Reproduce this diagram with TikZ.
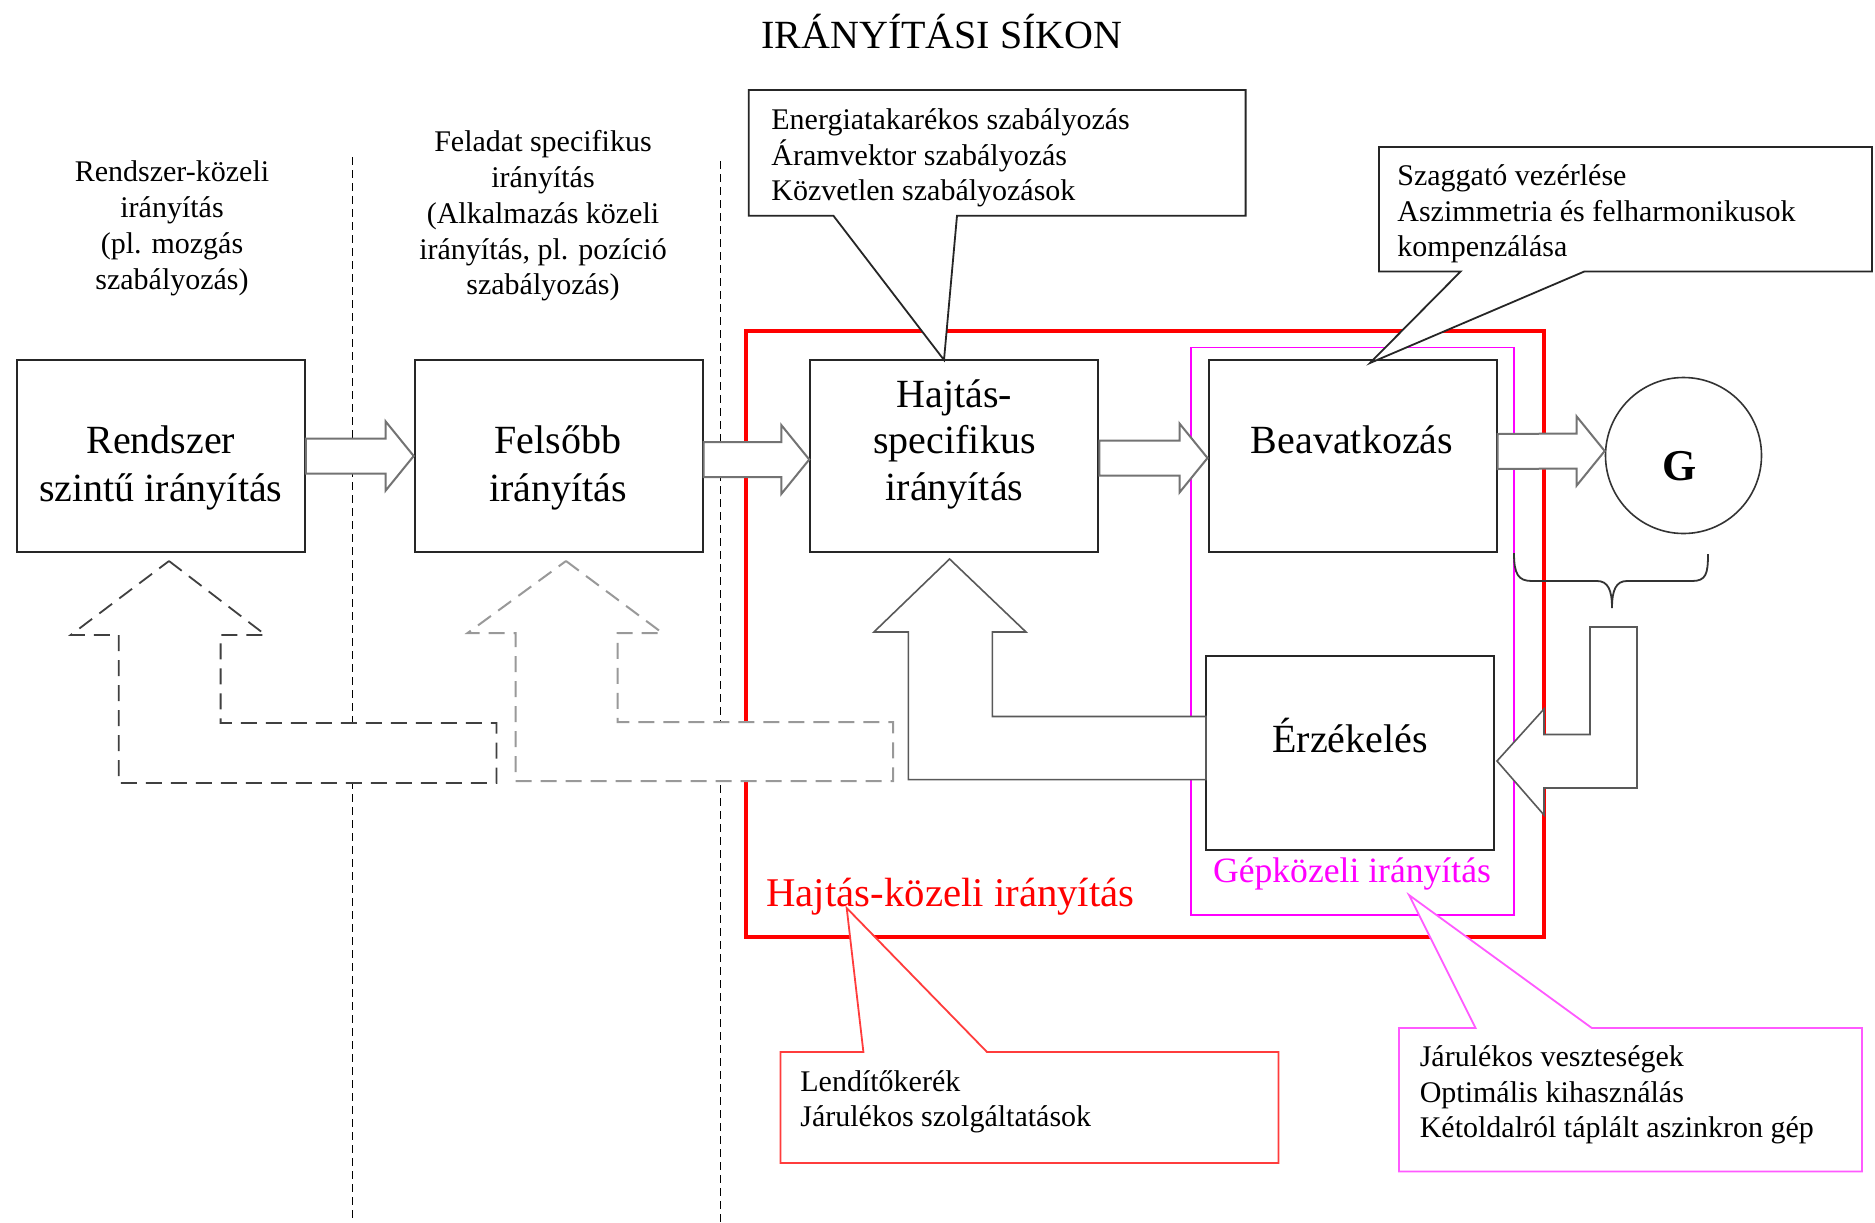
\documentclass[tikz,border=0pt]{standalone}
\usepackage{fontspec}
\setmainfont{Liberation Serif}
\usetikzlibrary{calc}
\definecolor{mag}{RGB}{255,0,255}
\definecolor{redL}{RGB}{255,60,60}
\definecolor{magL}{RGB}{255,90,255}
\newcommand\myrarrow[3]{%
  \filldraw[barrow] ($(#1.east)+(0,#3-17.5)$) -- ($(#2.west)+(-28,#3-17.5)$) -- ($(#2.west)+(-28,#3-34.5)$) -- ($(#2.west)+(0,#3)$) -- ($(#2.west)+(-28,#3+34.5)$) -- ($(#2.west)+(-28,#3+17.5)$) -- ($(#1.east)+(0,#3+17.5)$) -- cycle;}
\begin{document}
\begin{tikzpicture}[x=0.5pt,y=-0.5pt,
  blk/.style={draw=black!85,line width=1pt,fill=white,minimum width=144pt,minimum height=96pt,inner sep=0pt},
  barrow/.style={draw=black!55,line width=1pt,fill=white,line join=miter},
  dashsep/.style={draw=black,line width=0.8pt,dash pattern=on 3.8pt off 2.7pt},
  dasharrL/.style={draw=black!75,line width=0.9pt,fill=white,dash pattern=on 8pt off 4.5pt},
  dasharrR/.style={draw=black!40,line width=1pt,fill=white,dash pattern=on 8pt off 4.5pt},
  solarrow/.style={draw=black!65,line width=0.8pt,fill=white},
  callout/.style={draw=black!85,line width=0.9pt,fill=white,line join=miter},
  ctext/.style={font=\fontsize{15}{17.75}\selectfont,align=left,inner sep=0pt,anchor=west},
  htext/.style={font=\fontsize{15}{17.9}\selectfont,align=center,inner sep=0pt},
  btext/.style={font=\fontsize{20}{24}\selectfont,align=center,inner sep=0pt},
]
\fill[white] (0,0) rectangle (1875,1222);
\useasboundingbox (0,0) rectangle (1875,1222);

% title
\node[font=\fontsize{20}{24}\selectfont,anchor=base,inner sep=0pt] (title) at (942,48) {IRÁNYÍTÁSI SÍKON};

% separators
\draw[dashsep] (352.5,157) -- (352.5,1222);
\draw[dashsep] (720.5,161) -- (720.5,1222);

% column headers
\node[htext] (h1) at (172,228.5) {Rendszer-közeli\\irányítás\\(pl. mozgás\\szabályozás)};
\node[htext] (h2) at (543,216) {Feladat specifikus\\irányítás\\(Alkalmazás közeli\\irányítás, pl. pozíció\\szabályozás)};

% frames
\draw[red,line width=2pt] (745.5,331) rectangle (1543.5,937);
\draw[mag,line width=0.75pt] (1191,347.5) rectangle (1514,915);

% boxes
\node[blk] (rsz) at (160.85,456) {};
\node[blk] (fel) at (558.7,456) {};
\node[blk] (hsp) at (954.25,456) {};
\node[blk] (bea) at (1352.5,456) {};
\node[blk,minimum height=97pt] (erz) at (1350,753) {};
\node[draw=black!80,line width=0.8pt,circle,minimum size=78pt,inner sep=0pt,fill=white] (gen) at (1683.5,455.5) {};

% block arrows
\myrarrow{rsz}{fel}{0}
\myrarrow{fel}{hsp}{3.5}
\myrarrow{hsp}{bea}{2}
\myrarrow{bea}{gen}{-4.5}

% dashed feedback arrows
\filldraw[dasharrL] (169,561) -- (265.6,635) -- (220.6,635) -- (220.6,723) -- (496.4,723) -- (496.4,783) -- (118.7,783) -- (118.7,635) -- (70.7,635) -- cycle;
\filldraw[dasharrR] (566,561) -- (662.4,633) -- (617.5,633) -- (617.5,722) -- (893,722) -- (893,781) -- (515.6,781) -- (515.6,633) -- (467.6,633) -- cycle;

% solid feedback arrow
\filldraw[solarrow] (949.6,559) -- (1026,632) -- (992.3,632) -- (992.3,716.5) -- (1206,716.5) -- (1206,779.6) -- (908.3,779.6) -- (908.3,632) -- (873.9,632) -- cycle;
% from generator to sensing
\filldraw[solarrow] (1497,761) -- (1544,709) -- (1544,734.5) -- (1590,734.5) -- (1590,627) -- (1637,627) -- (1637,788) -- (1544,788) -- (1544,815) -- cycle;

% brace
\draw[black!80,line width=0.9pt] (1514,553) .. controls (1514,574) and (1518,581) .. (1532,581) -- (1597,581) .. controls (1608,581) and (1612,590) .. (1612,608) .. controls (1612,590) and (1616,581) .. (1627,581) -- (1692,581) .. controls (1706,581) and (1708,574) .. (1708,554);

% callouts
\filldraw[callout] (748.7,90) -- (1245.6,90) -- (1245.6,215.7) -- (957,215.7) -- (944,360) -- (833.4,215.7) -- (748.7,215.7) -- cycle;
\filldraw[callout] (1379,147) -- (1872,147) -- (1872,271.5) -- (1584.3,271.5) -- (1370,363) -- (1460.6,271.5) -- (1379,271.5) -- cycle;
\filldraw[callout,draw=redL] (780.5,1052) -- (863.4,1052) -- (846.7,908) -- (987,1052) -- (1278.5,1052) -- (1278.5,1163) -- (780.5,1163) -- cycle;
\filldraw[callout,draw=magL] (1399,1028) -- (1475.6,1028) -- (1409,895) -- (1591.8,1028) -- (1862,1028) -- (1862,1171.5) -- (1399,1171.5) -- cycle;

% texts
\node[btext] (rszT) at (160.85,468) {Rendszer\\szintű irányítás};
\node[btext] (felT) at (558,468) {Felsőbb\\irányítás};
\node[btext,font=\fontsize{20}{23.25}\selectfont] (hspT) at (954.5,444) {Hajtás-\\specifikus\\irányítás};
\node[btext] (beaT) at (1352,440) {Beavatkozás};
\node[btext] (erzT) at (1350,736) {Érzékelés};
\node[font=\bfseries\fontsize{22}{26}\selectfont,anchor=base,inner sep=0pt] (gT) at (1680,480) {G};

\node[ctext] (cA) at (771,158) {Energiatakarékos szabályozás\\Áramvektor szabályozás\\Közvetlen szabályozások};
\node[ctext] (cB) at (1397,214) {Szaggató vezérlése\\Aszimmetria és felharmonikusok\\kompenzálása};
\node[ctext] (cC) at (800,1102) {Lendítőkerék\\Járulékos szolgáltatások};
\node[ctext] (cD) at (1419.4,1095) {Járulékos veszteségek\\Optimális kihasználás\\Kétoldalról táplált aszinkron gép};

\node[font=\fontsize{20.4}{24}\selectfont,text=red,anchor=base west,inner sep=0pt] (lblR) at (766,906) {Hajtás-közeli irányítás};
\node[font=\fontsize{17.8}{21}\selectfont,text=mag,anchor=base,inner sep=0pt] (lblM) at (1352,882) {Gépközeli irányítás};
\end{tikzpicture}
\end{document}
